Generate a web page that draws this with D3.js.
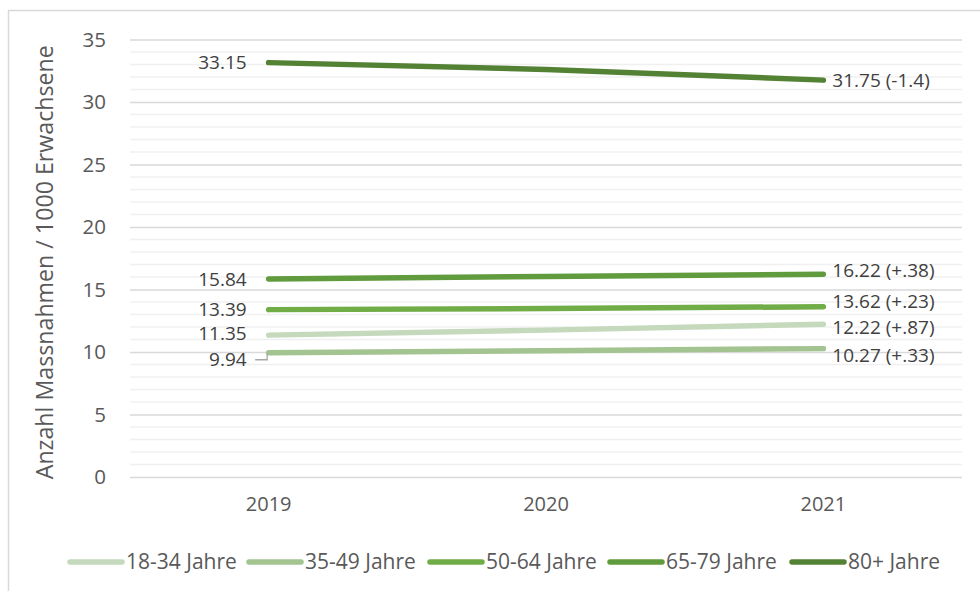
<!DOCTYPE html>
<html>
<head>
<meta charset="utf-8">
<script src="https://cdn.jsdelivr.net/npm/d3@7"></script>
<style>
  html, body { margin: 0; padding: 0; background: #fff; }
  svg { display: block; font-family: "Open Sans", "Liberation Sans", sans-serif; }
</style>
</head>
<body>
<svg id="chart" width="980" height="591"></svg>
<script>
// Years on the category axis
const years = ["2019", "2020", "2021"];

// Age groups (series) and their colours
const groups = ["18-34 Jahre", "35-49 Jahre", "50-64 Jahre", "65-79 Jahre", "80+ Jahre"];
const colors = ["#c5d9bc", "#a3c490", "#70ad47", "#609b3d", "#548235"];

// Measures per 1000 adults, one array per age group (2019, 2020, 2021)
const v18_34 = [11.35, 11.75, 12.22];
const v35_49 = [9.94, 10.10, 10.27];
const v50_64 = [13.39, 13.48, 13.62];
const v65_79 = [15.84, 16.04, 16.22];
const v80p   = [33.15, 32.60, 31.75];
const values = [v18_34, v35_49, v50_64, v65_79, v80p];

// Y axis ticks
const yTicks = [0, 5, 10, 15, 20, 25, 30, 35];

const yTitle = "Anzahl Massnahmen / 1000 Erwachsene";

// vertical nudges for the start / end labels so they don't collide
const startNudge = [-1.5, 7, 0, 0, 0];
const endNudge = [3, 7, -5, -4, 0];

const svg = d3.select("#chart");

const plot = { left: 130, right: 962, top: 39.5, bottom: 477 };

const x = d3.scaleBand().domain(years).range([plot.left, plot.right]);
const y = d3.scaleLinear().domain([0, 35]).range([plot.bottom, plot.top]);
const cx = d => x(d) + x.bandwidth() / 2;

// outer chart frame (left and top edges)
svg.append("path")
  .attr("d", "M8.5,591 V10.5 H980")
  .attr("fill", "none").attr("stroke", "#d9d9d9").attr("stroke-width", 1.5);

// minor gridlines every 1 unit
svg.append("g").selectAll("line")
  .data(d3.range(0, 36).filter(v => v % 5 !== 0))
  .join("line")
  .attr("x1", plot.left).attr("x2", plot.right)
  .attr("y1", d => y(d)).attr("y2", d => y(d))
  .attr("stroke", "#f0f0f0").attr("stroke-width", 1.3);

// major gridlines and tick labels
const yAxis = d3.axisLeft(y).tickValues(yTicks).tickSize(-(plot.right - plot.left)).tickPadding(24);
const gy = svg.append("g").attr("transform", `translate(${plot.left},0)`).call(yAxis);
gy.select(".domain").remove();
gy.selectAll(".tick line").attr("stroke", "#d9d9d9").attr("stroke-width", 1.3);
gy.selectAll(".tick text")
  .attr("fill", "#595959").attr("font-size", "20.5px")
  .attr("font-family", "Open Sans").attr("dy", "0.32em");

// x axis labels
const xAxis = d3.axisBottom(x).tickSize(0).tickPadding(20);
const gx = svg.append("g").attr("transform", `translate(0,${plot.bottom})`).call(xAxis);
gx.select(".domain").remove();
gx.selectAll(".tick text")
  .attr("fill", "#595959").attr("font-size", "20px").attr("font-family", "Open Sans");

// y axis title
svg.append("text")
  .attr("transform", `translate(53,${(plot.top + plot.bottom) / 2 + 4}) rotate(-90)`)
  .attr("text-anchor", "middle")
  .attr("fill", "#595959").attr("font-size", "23.2px")
  .text(yTitle);

// lines
const line = d3.line().x((d, i) => cx(years[i])).y(d => y(d));
svg.append("g").selectAll("path")
  .data(values)
  .join("path")
  .attr("d", d => line(d))
  .attr("fill", "none")
  .attr("stroke", (d, i) => colors[i])
  .attr("stroke-width", 5.5)
  .attr("stroke-linecap", "round")
  .attr("stroke-linejoin", "round");

// start labels (2019)
const fmt = d3.format(".2f");
const labels = svg.append("g").attr("fill", "#404040").attr("font-size", "19px");
values.forEach((vals, i) => {
  const ly = y(vals[0]) + startNudge[i];
  labels.append("text")
    .attr("x", cx(years[0]) - 22).attr("y", ly)
    .attr("dy", "0.35em").attr("text-anchor", "end")
    .text(fmt(vals[0]));
  if (startNudge[i] > 3) {
    // small leader line back to the data point
    const px = cx(years[0]) - 1.5;
    svg.append("path")
      .attr("d", `M${px - 12},${ly} H${px} V${y(vals[0]) + 1}`)
      .attr("fill", "none").attr("stroke", "#a6a6a6").attr("stroke-width", 1.3);
  }
});

// end labels (2021) with change since 2019
function change(a, b) {
  const d = +(b - a).toFixed(2);
  const s = Math.abs(d).toString().replace(/^0/, "");
  return (d < 0 ? "-" : "+") + s;
}
values.forEach((vals, i) => {
  const last = vals[vals.length - 1];
  labels.append("text")
    .attr("x", cx(years[2]) + 9).attr("y", y(last) + endNudge[i])
    .attr("dy", "0.35em").attr("text-anchor", "start")
    .text(`${fmt(last)} (${change(vals[0], last)})`);
});

// legend
const legendX = [68, 247, 428, 608, 790];
const lg = svg.append("g").attr("transform", "translate(0,562)");
groups.forEach((g, i) => {
  const item = lg.append("g").attr("transform", `translate(${legendX[i]},0)`);
  item.append("line")
    .attr("x1", 2).attr("x2", 54).attr("y1", 0).attr("y2", 0)
    .attr("stroke", colors[i]).attr("stroke-width", 5.5).attr("stroke-linecap", "round");
  item.append("text")
    .attr("x", 58).attr("y", 0).attr("dy", "0.35em")
    .attr("fill", "#595959").attr("font-size", "21px")
    .text(g);
});
</script>
</body>
</html>
